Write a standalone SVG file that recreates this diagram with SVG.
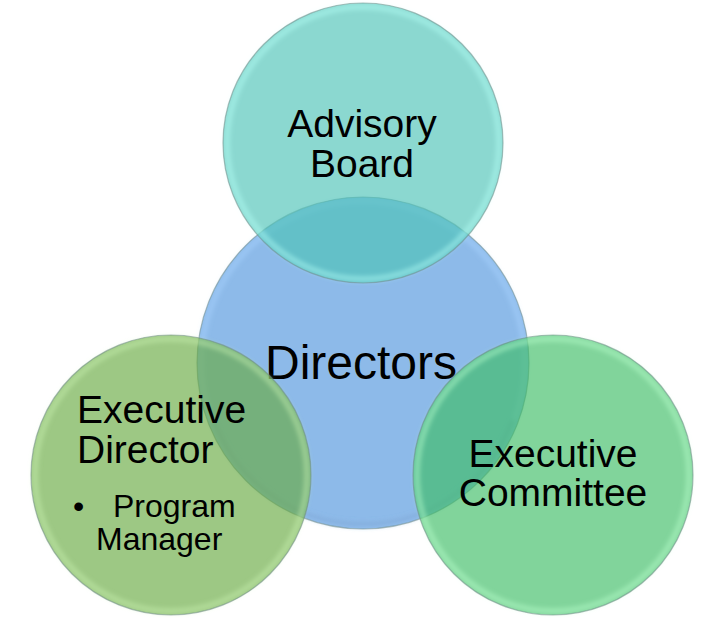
<svg xmlns="http://www.w3.org/2000/svg" width="725" height="618" viewBox="0 0 725 618">
<defs>
<style>
text{font-family:"Liberation Sans",Arial,sans-serif;fill:#000}
.t39{font-size:39px}
.t48{font-size:48px}
.t32{font-size:32px}
.rim{fill:none;stroke-width:6;stroke-opacity:0.45}
.edge{fill:none;stroke:#6f8a86;stroke-width:1.2;stroke-opacity:0.55}
.glow{fill:none;stroke:#ffffff;stroke-width:2;stroke-opacity:0.6}
</style>
<filter id="soft" x="-10%" y="-10%" width="120%" height="120%"><feGaussianBlur stdDeviation="2"/></filter>
</defs>
<rect width="725" height="618" fill="#ffffff"/>
<g id="directors">
<circle cx="363" cy="363" r="166" fill="#8dbae9"/>
<circle cx="363" cy="363" r="162" class="rim" stroke="#a8d2ff" filter="url(#soft)"/>
<path d="M 213 420 A 160 160 0 0 0 513 420" fill="none" stroke="#5e86b8" stroke-width="5" stroke-opacity="0.35" filter="url(#soft)"/>
<circle cx="363" cy="363" r="166" class="edge"/>
<text class="t48" x="361" y="379" text-anchor="middle">Directors</text>
</g>
<g id="advisory-board">
<circle cx="363" cy="143" r="140" fill="#4dc3b7" fill-opacity="0.65"/>
<circle cx="363" cy="143" r="136" class="rim" stroke="#b4fff6" filter="url(#soft)"/>
<circle cx="363" cy="143" r="140" class="edge"/>
<text class="t39" x="362" y="137" text-anchor="middle">Advisory</text>
<text class="t39" x="362" y="177" text-anchor="middle">Board</text>
</g>
<g id="executive-director">
<circle cx="171" cy="475" r="140" fill="#68aa42" fill-opacity="0.65"/>
<circle cx="171" cy="475" r="136" class="rim" stroke="#c8f0b0" filter="url(#soft)"/>
<circle cx="171" cy="475" r="140" class="edge"/>
<text class="t39" x="77" y="423">Executive</text>
<text class="t39" x="77" y="463">Director</text>
<text class="t32" x="73" y="517">•</text>
<text class="t32" x="113" y="517">Program</text>
<text class="t32" x="96" y="550">Manager</text>
</g>
<g id="executive-committee">
<circle cx="553" cy="475" r="140" fill="#3dbd65" fill-opacity="0.65"/>
<circle cx="553" cy="475" r="136" class="rim" stroke="#b8ffcc" filter="url(#soft)"/>
<circle cx="553" cy="475" r="140" class="edge"/>
<text class="t39" x="553" y="467" text-anchor="middle">Executive</text>
<text class="t39" x="553" y="506" text-anchor="middle">Committee</text>
</g>
<g id="connectors"></g>
</svg>
